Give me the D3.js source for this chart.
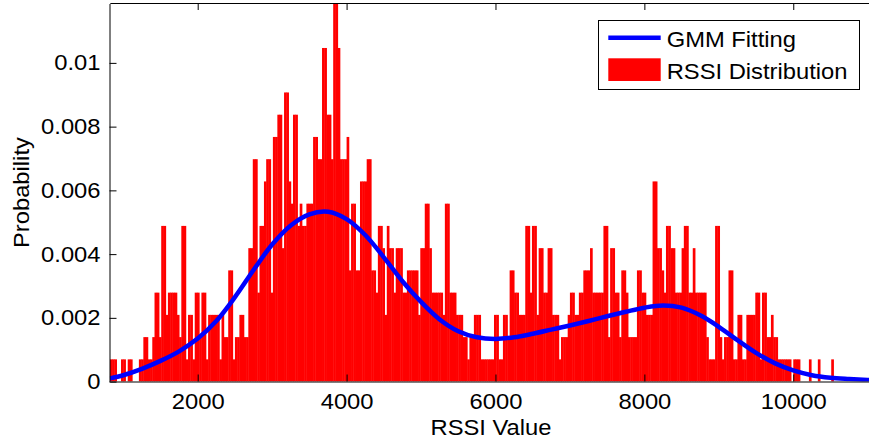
<!DOCTYPE html>
<html>
<head>
<meta charset="utf-8">
<script src="https://cdn.jsdelivr.net/npm/d3@7"></script>
<style>
  html, body { margin: 0; padding: 0; background: #fff; }
  svg { display: block; }
  text { font-family: "Liberation Sans", Arial, Helvetica, sans-serif; font-size: 22px; fill: #000; }
</style>
</head>
<body>
<svg id="chart" width="869" height="446"></svg>
<script>
// Histogram of RSSI samples: bins of equal width starting at binStart.
const binStart = 820;
const binWidth = 30;
const sampleCount = 1433;
const binCounts = [
  1,1,1,0,0,1,1,0,1,1, 0,0,0,1,1,2,2,1,1,2,
  4,4,2,7,7,3,4,4,4,4, 3,2,7,7,1,3,3,1,4,4,
  2,4,4,1,3,3,3,3,3,1, 3,2,2,5,5,1,2,2,3,3,
  2,2,6,6,10,10,4,7,7,9, 10,10,4,11,11,12,12,6,13,13,
  9,8,12,12,7,8,7,7,8,8, 8,11,11,10,10,15,15,12,12,10,
  17,17,15,10,10,10,11,5,8,8, 5,5,9,9,9,10,10,5,5,4,
  7,7,6,3,7,6,6,4,6,6, 6,4,4,5,5,5,5,5,3,6,
  6,8,8,6,4,4,4,4,4,3, 8,8,4,4,4,3,3,3,2,2,
  1,2,2,3,3,3,1,1,1,1, 1,1,3,3,1,1,3,3,2,5,
  5,4,4,3,3,3,7,7,4,7, 7,3,6,6,4,4,6,6,3,3,
  3,1,2,2,2,3,4,4,3,3, 4,4,5,5,5,6,4,4,4,4,
  4,7,7,2,6,6,4,4,2,5, 5,4,2,2,2,2,5,5,4,4,
  3,3,3,9,9,6,6,5,4,7, 7,6,6,4,4,4,6,7,7,4,
  4,6,4,4,4,4,4,2,1,1, 1,7,7,2,1,2,2,5,5,1,
  1,3,3,1,1,3,3,3,3,4, 4,1,4,4,2,2,3,2,2,1,
  1,1,1,1,1,0,1,1,1,0, 0,0,0,1,0,0,0,1,0,0,
  0,0,0,1
];

// Fitted Gaussian-mixture density, sampled along the RSSI axis.
const gmmX = [820, 1000, 1250, 1500, 1750, 2000, 2250, 2500, 2750, 3000,
  3250, 3500, 3750, 4000, 4250, 4500, 4750, 5000, 5250, 5500,
  5750, 6000, 6250, 6500, 6750, 7000, 7250, 7500, 7750, 8000,
  8250, 8500, 8750, 9000, 9250, 9500, 9750, 10000, 10250, 10500,
  10750, 11000, 11250];
const gmmY = [0.0001, 0.0002, 0.0004, 0.00065, 0.00095, 0.00135, 0.0019, 0.00265, 0.0035, 0.0043,
  0.0049, 0.00525, 0.00533, 0.0051, 0.0046, 0.0039, 0.00315, 0.0025, 0.00195, 0.00158,
  0.00139, 0.00134, 0.00139, 0.0015, 0.00163, 0.00176, 0.0019, 0.00205, 0.00219, 0.00232,
  0.00239, 0.00232, 0.00208, 0.00172, 0.0013, 0.0009, 0.00058, 0.00035, 0.0002, 0.00012,
  0.00008, 0.00005, 0.00003];

const xTicks = [2000, 4000, 6000, 8000, 10000];
const yTicks = [0, 0.002, 0.004, 0.006, 0.008, 0.01];
const yTickLabels = ["0", "0.002", "0.004", "0.006", "0.008", "0.01"];
const legendLabels = ["GMM Fitting", "RSSI Distribution"];
const xLabel = "RSSI Value";
const yLabel = "Probability";

const histColor = "#ff0000";
const fitColor = "#0000ff";
const stretch = 1.08;   // horizontal widening of the figure font

const bins = binCounts.map((c, i) => ({
  x0: binStart + i * binWidth,
  x1: binStart + (i + 1) * binWidth,
  p: c / sampleCount
}));

const plotLeft = 109.85, plotRight = 882.6, plotTop = 3.5, plotBottom = 381.6;

const x = d3.scaleLinear().domain([820, 11200]).range([plotLeft, plotRight]);
const y = d3.scaleLinear().domain([0, d3.max(bins, d => d.p)]).range([plotBottom, plotTop]);

const svg = d3.select("#chart");

svg.append("defs").append("clipPath").attr("id", "plotClip")
  .append("rect").attr("x", plotLeft).attr("y", plotTop - 1)
  .attr("width", plotRight - plotLeft).attr("height", plotBottom - plotTop + 1);

const plot = svg.append("g").attr("clip-path", "url(#plotClip)");

// histogram bars
plot.append("g").selectAll("rect").data(bins.filter(d => d.p > 0)).join("rect")
  .attr("x", d => x(d.x0))
  .attr("width", d => x(d.x1) - x(d.x0) + 0.45)
  .attr("y", d => y(d.p))
  .attr("height", d => y(0) - y(d.p))
  .attr("fill", histColor);

// GMM curve
const line = d3.line().x((d, i) => x(gmmX[i])).y(d => y(d)).curve(d3.curveCatmullRom.alpha(0.5));
plot.append("path").datum(gmmY)
  .attr("d", line)
  .attr("fill", "none")
  .attr("stroke", fitColor)
  .attr("stroke-width", 4.5)
  .attr("stroke-linejoin", "round");

// axes
const xAxis = svg.append("g").attr("transform", "translate(0,381.5)")
  .call(d3.axisBottom(x).tickValues(xTicks).tickSizeInner(-7).tickSizeOuter(0).tickPadding(11.5)
    .tickFormat(d3.format("d")));
xAxis.selectAll("text").attr("transform", `scale(${stretch},1)`);

const topAxis = svg.append("g").attr("transform", "translate(0,3)")
  .call(d3.axisTop(x).tickValues(xTicks).tickSizeInner(-7).tickSizeOuter(0).tickFormat(""));

const yAxis = svg.append("g").attr("transform", "translate(109.5,0)")
  .call(d3.axisLeft(y).tickValues(yTicks).tickSizeInner(-7).tickSizeOuter(0).tickPadding(9)
    .tickFormat((d, i) => yTickLabels[i]));
yAxis.selectAll("text")
  .attr("x", -9 / stretch)
  .attr("transform", `scale(${stretch},1)`);

[xAxis, topAxis, yAxis].forEach(g => {
  g.attr("font-family", null).attr("font-size", null);
  g.selectAll("text").attr("fill", "#000");
  g.selectAll("line,path").attr("stroke", "#000");
});

// axis titles
svg.append("text")
  .attr("transform", `translate(491,435) scale(${stretch},1)`)
  .attr("text-anchor", "middle")
  .text(xLabel);

svg.append("text")
  .attr("transform", `translate(29,${(plotTop + plotBottom) / 2}) rotate(-90) scale(${stretch},1)`)
  .attr("text-anchor", "middle")
  .text(yLabel);

// legend
const legend = svg.append("g");
legend.append("rect")
  .attr("x", 598.5).attr("y", 20.5).attr("width", 261).attr("height", 69)
  .attr("fill", "#fff").attr("stroke", "#000").attr("stroke-width", 1);
legend.append("line")
  .attr("x1", 608.3).attr("x2", 660.7).attr("y1", 37.7).attr("y2", 37.7)
  .attr("stroke", fitColor).attr("stroke-width", 4.5);
legend.append("rect")
  .attr("x", 608.3).attr("y", 58.3).attr("width", 52.4).attr("height", 22.7)
  .attr("fill", histColor);
legend.selectAll("text.lab").data(legendLabels).join("text")
  .attr("class", "lab")
  .attr("transform", (d, i) => `translate(666.7,${i === 0 ? 46.5 : 79.3}) scale(${stretch},1)`)
  .text(d => d);
</script>
</body>
</html>
